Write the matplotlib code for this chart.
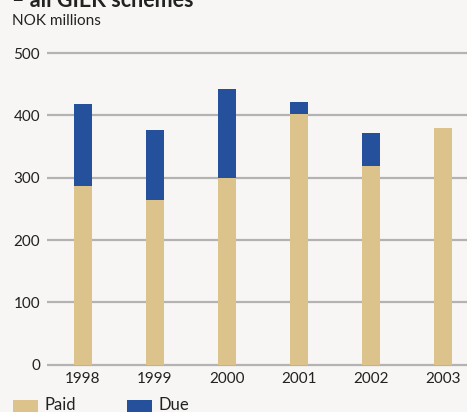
import matplotlib
matplotlib.use("Agg")
import matplotlib.pyplot as plt
from matplotlib.patches import Rectangle

years = ["1998", "1999", "2000", "2001", "2002", "2003"]
paid = [287, 264, 300, 402, 319, 380]
due = [131, 112, 142, 20, 53, 0]
y_ticks = [0, 100, 200, 300, 400, 500]
legend_labels = ["Paid", "Due"]

W, H = 467, 412
BG = "#f7f6f4"
PAID_C = "#dcc38c"
DUE_C = "#25509c"
TXT = "#222222"
FONT = ["Lato", "DejaVu Sans"]
plt.rcParams["font.family"] = FONT

fig = plt.figure(figsize=(W / 100, H / 100), dpi=100, facecolor=BG)
ax_left = 47 / W
ax_bottom = (H - 364.6) / H
ax_top_px = 40
ax_height = (364.6 - ax_top_px) / H
ax = fig.add_axes([ax_left, ax_bottom, 1 - ax_left, ax_height], facecolor=BG)

ymax = (364.6 - ax_top_px) / 0.623
ax.set_ylim(0, ymax)
ax.set_xlim(-0.5, (W - 83) / 72)

x = list(range(len(years)))
ax.hlines(y_ticks, -0.5, 6, colors="#b3b3b3", linewidth=1.6, zorder=1, clip_on=False)
ax.bar(x, paid, width=0.25, color=PAID_C, zorder=2, label=legend_labels[0])
ax.bar(x, due, bottom=paid, width=0.25, color=DUE_C, zorder=2, label=legend_labels[1])

for s in ax.spines.values():
    s.set_visible(False)
ax.set_yticks(y_ticks)
ax.set_yticklabels([str(v) for v in y_ticks])
ax.set_xticks(x)
ax.set_xticklabels(years)
ax.tick_params(axis="y", length=0, pad=5, labelsize=11, colors=TXT)
ax.tick_params(axis="x", length=0, pad=5, labelsize=11, colors=TXT)

fig.text(12 / W, 1 - 7 / H, "– all GIEK schemes", fontsize=15.5, fontweight="bold",
         color=TXT, ha="left", va="baseline")
fig.text(12 / W, 1 - 25 / H, "NOK millions", fontsize=11, color=TXT,
         ha="left", va="baseline")

# legend, drawn by hand (swatches partly cut by the bottom edge as in the original)
for (sx, tx), lab, col in zip([(13, 44), (127, 158)], legend_labels, [PAID_C, DUE_C]):
    fig.patches.append(Rectangle((sx / W, (H - 416) / H), 25 / W, 16 / H,
                                 transform=fig.transFigure, facecolor=col,
                                 edgecolor="none"))
    fig.text(tx / W, 1 - 410.5 / H, lab, fontsize=12, color=TXT, ha="left",
             va="baseline")

fig.savefig("out.png", dpi=100, facecolor=BG)
